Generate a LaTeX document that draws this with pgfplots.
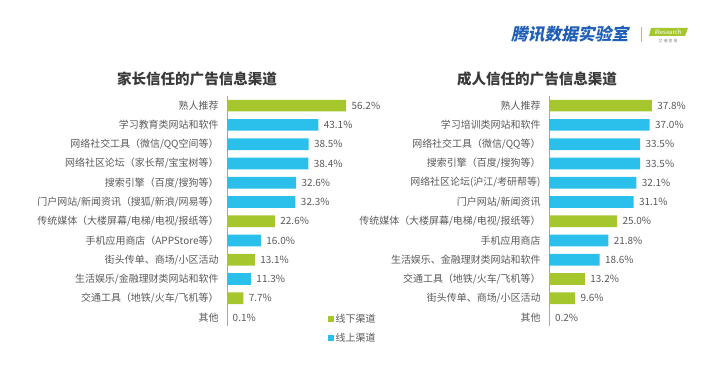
\documentclass[border=0pt]{standalone}
\usepackage{pgfplots}
\pgfplotsset{compat=1.18}
\usepackage{fontspec}
\setmainfont{Noto Sans CJK SC}
\newfontfamily\logofont{Noto Sans CJK SC}[FakeSlant=0.2]
\definecolor{cg}{HTML}{A5C72D}
\definecolor{cb}{HTML}{2BC0EC}
\definecolor{lab}{HTML}{5A5A5A}
\definecolor{ttl}{HTML}{3A3A3A}
\definecolor{logo}{HTML}{1F5FB8}
\begin{document}
\begin{tikzpicture}[x=1bp,y=1bp]
\path[use as bounding box, fill=white] (0,0) rectangle (720,369);
\pgfplotsset{
 hb/.style={
  xbar, bar width=11.7bp, bar shift=0pt, scale only axis,
  xmin=0, y dir=reverse, ymin=-0.5, ymax=11.44,
  axis x line=none, xtick=\empty,
  axis y line*=left, y axis line style={-, draw=gray!70, line width=0.8bp},
  ytick={0,...,11}, major tick length=0pt,
  yticklabel style={font=\fontsize{10}{11}\selectfont, text=lab, xshift=-5bp},
  point meta=x,
  nodes near coords={\pgfmathprintnumber[fixed,fixed zerofill,precision=1]{\pgfplotspointmeta}\%},
  every node near coord/.append style={font=\fontsize{10}{11}\selectfont, text=lab, xshift=2bp},
  /pgf/number format/assume math mode=true,
  clip=false,
  height=230bp,
 }
}
\node[font=\fontsize{14.6}{16}\selectfont\bfseries, text=ttl] at (197bp,290bp) {家长信任的广告信息渠道};
\node[font=\fontsize{14.6}{16}\selectfont\bfseries, text=ttl] at (537bp,290bp) {成人信任的广告信息渠道};

\begin{axis}[hb, at={(227bp,273bp)}, anchor=north west, width=127.2bp, xmax=60,
  yticklabels={熟人推荐, 学习教育类网站和软件, 网络社交工具（微信/QQ空间等）, 网络社区论坛（家长帮/宝宝树等）, 搜索引擎（百度/搜狗等）, 门户网站/新闻资讯（搜狐/新浪/网易等）, 传统媒体（大楼屏幕/电梯/电视/报纸等）, 手机应用商店（APPStore等）, 街头传单、商场/小区活动, 生活娱乐/金融理财类网站和软件, 交通工具（地铁/火车/飞机等）, 其他},
  legend style={draw=none, fill=none, at={(axis description cs:0.79,0.06)}, anchor=north west, font=\fontsize{10}{11}\selectfont, text=lab, row sep=5bp, inner sep=0pt},
  legend cell align=left,
  legend image code/.code={\fill[#1] (0bp,-3bp) rectangle (6bp,3bp);},
]
\addplot[fill=cg, draw=none] coordinates {(56.2,0) (22.6,6) (13.1,8) (7.7,10) (0.1,11)};
\addplot[fill=cb, draw=none] coordinates {(43.1,1) (38.5,2) (38.4,3) (32.6,4) (32.3,5) (16.0,7) (11.3,9)};
\legend{线下渠道, 线上渠道}
\end{axis}

\begin{axis}[hb, at={(549bp,273bp)}, anchor=north west, width=122.4bp, xmax=45,
  yticklabels={熟人推荐, 学习培训类网站和软件, 网络社交工具（微信/QQ等）, 搜索引擎（百度/搜狗等）, 网络社区论坛(沪江/考研帮等), 门户网站/新闻资讯, 传统媒体（大楼屏幕/电梯/电视/报纸等）, 手机应用商店, 生活娱乐、金融理财类网站和软件, 交通工具（地铁/火车/飞机等）, 街头传单、商场/小区活动, 其他},
]
\addplot[fill=cg, draw=none] coordinates {(37.8,0) (25.0,6) (13.2,9) (9.6,10) (0.2,11)};
\addplot[fill=cb, draw=none] coordinates {(37.0,1) (33.5,2) (33.5,3) (32.1,4) (31.1,5) (21.8,7) (18.6,8)};
\end{axis}

\node[font=\logofont\bfseries\fontsize{16.8}{18}\selectfont, text=logo, anchor=west, inner sep=0pt] at (511bp,335bp) {腾讯数据实验室};
\draw[gray!60, line width=0.6bp] (641bp,327bp) -- (641bp,342bp);
\fill[cg] (649bp,333bp) -- (685bp,333bp) -- (688bp,341bp) -- (651bp,341bp) -- cycle;
\node[font=\itshape\fontsize{6}{6}\selectfont, text=white, inner sep=0pt] at (668bp,337bp) {iResearch};
\node[font=\fontsize{4}{4}\selectfont, text=gray, inner sep=0pt] at (668bp,328bp) {艾\ 瑞\ 咨\ 询};
\end{tikzpicture}
\end{document}
